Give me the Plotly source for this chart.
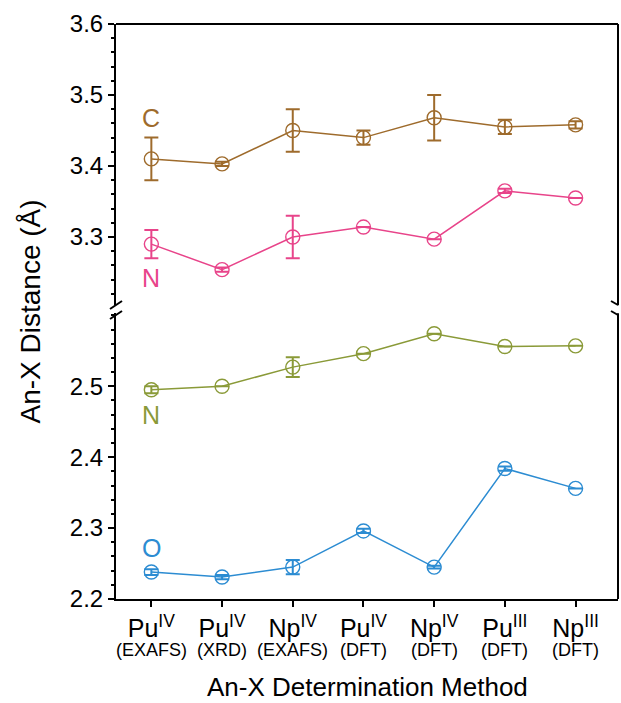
import plotly.graph_objects as go

methods = ["Pu<sup>IV</sup>", "Pu<sup>IV</sup>", "Np<sup>IV</sup>", "Pu<sup>IV</sup>",
           "Np<sup>IV</sup>", "Pu<sup>III</sup>", "Np<sup>III</sup>"]
techniques = ["(EXAFS)", "(XRD)", "(EXAFS)", "(DFT)", "(DFT)", "(DFT)", "(DFT)"]
idx = list(range(len(methods)))

c_vals = [3.410, 3.403, 3.450, 3.440, 3.468, 3.455, 3.458]
c_err = [0.030, 0.003, 0.030, 0.010, 0.032, 0.010, 0.005]
n_up_vals = [3.290, 3.254, 3.300, 3.314, 3.297, 3.365, 3.355]
n_up_err = [0.020, 0.003, 0.030, 0.0, 0.0, 0.003, 0.0]
n_lo_vals = [2.495, 2.500, 2.527, 2.546, 2.574, 2.556, 2.557]
n_lo_err = [0.005, 0.0, 0.014, 0.0, 0.0, 0.0, 0.0]
o_vals = [2.238, 2.231, 2.245, 2.296, 2.245, 2.384, 2.356]
o_err = [0.004, 0.003, 0.010, 0.003, 0.002, 0.003, 0.0]

BROWN = "#9E6B2C"
PINK = "#E8448A"
OLIVE = "#8A9A38"
BLUE = "#2C8CD2"

FONT = "Liberation Sans, Arial, Helvetica, sans-serif"

fig = go.Figure()

def add_series(vals, err, color, yax):
    fig.add_trace(go.Scatter(
        x=idx, y=vals, mode="lines+markers", xaxis="x", yaxis=yax,
        line=dict(color=color, width=1.5),
        marker=dict(symbol="circle-open", size=14, color=color, line=dict(width=1.4, color=color)),
        error_y=dict(type="data", array=err, visible=True, color=color, thickness=2, width=7),
        showlegend=False, hoverinfo="skip"))

add_series(c_vals, c_err, BROWN, "y2")
add_series(n_up_vals, n_up_err, PINK, "y2")
add_series(n_lo_vals, n_lo_err, OLIVE, "y")
add_series(o_vals, o_err, BLUE, "y")

lo_dom = [0.0, 0.497]
hi_dom = [0.511, 1.0]
lo_rng = [2.2, 2.603]
hi_rng = [3.204, 3.6]
xr = [-0.5, 6.6]

axis_font = dict(family=FONT, size=24, color="black")

common_y = dict(showgrid=False, zeroline=False, showline=True, linecolor="black", linewidth=2,
                automargin=False,
                ticks="outside", ticklen=6, tickwidth=2, tickcolor="black",
                tickfont=axis_font,
                minor=dict(ticks="outside", ticklen=3, tickwidth=2, tickcolor="black", dtick=0.02))
inner_y = dict(showgrid=False, zeroline=False, showline=False, showticklabels=False,
               automargin=False,
               ticks="inside", ticklen=7, tickwidth=2, tickcolor="black",
               minor=dict(ticks="inside", ticklen=6, tickwidth=2, tickcolor="black", dtick=0.02))

W, H = 621, 703
L, T = 116, 24
PH = 575
PW = 502
B = H - T - PH
R = W - L - PW

fig.update_layout(
    width=W, height=H,
    margin=dict(l=L, r=R, t=T, b=B, autoexpand=False),
    paper_bgcolor="white", plot_bgcolor="white",
    font=dict(family=FONT, color="black"),
    xaxis=dict(range=xr, anchor="y", showgrid=False, zeroline=False, showline=True,
               automargin=False,
               linecolor="black", linewidth=2, ticks="outside", ticklen=6, tickwidth=2,
               tickcolor="black", tickmode="array", tickvals=idx, ticktext=methods,
               tickfont=dict(family=FONT, size=25, color="black")),
    xaxis3=dict(range=xr, anchor="y", overlaying="x", showgrid=False, zeroline=False,
                automargin=False,
                showline=False, showticklabels=False, ticks="inside", ticklen=7, tickwidth=2,
                tickcolor="black", tickmode="array", tickvals=idx),
    yaxis=dict(domain=lo_dom, range=lo_rng, anchor="x", tickmode="array",
               tickvals=[2.2, 2.3, 2.4, 2.5], ticktext=["2.2", "2.3", "2.4", "2.5"],
               **common_y),
    yaxis2=dict(domain=hi_dom, range=hi_rng, anchor="x", tickmode="array",
                tickvals=[3.3, 3.4, 3.5, 3.6], ticktext=["3.3", "3.4", "3.5", "3.6"],
                **common_y),
    yaxis3=dict(domain=lo_dom, range=lo_rng, anchor="x", overlaying="y", tickmode="array",
                tickvals=[2.2, 2.3, 2.4, 2.5], **inner_y),
    yaxis4=dict(domain=hi_dom, range=hi_rng, anchor="x", overlaying="y2", tickmode="array",
                tickvals=[3.3, 3.4, 3.5, 3.6], **inner_y),
)

pw = float(PW)
ph = float(PH)

# axis titles
fig.add_annotation(text="An-X Distance (Å)", xref="paper", yref="paper", x=(30 - 116) / pw,
                   y=0.5, textangle=-90, showarrow=False, xanchor="center", yanchor="middle",
                   font=dict(family=FONT, size=28, color="black"))
fig.add_annotation(text="An-X Determination Method", xref="paper", yref="paper", x=0.5,
                   y=-(687 - 599) / ph, showarrow=False, xanchor="center", yanchor="middle",
                   font=dict(family=FONT, size=26, color="black"))

# technique labels under each category
for i, t in zip(idx, techniques):
    fig.add_annotation(text=t, x=i, xref="x", y=-(650 - 599) / ph, yref="paper",
                       showarrow=False, xanchor="center", yanchor="middle",
                       font=dict(family=FONT, size=18, color="black"))

# series labels
labels = [("C", 3.468, "y2", BROWN), ("N", 3.242, "y2", PINK),
          ("N", 2.459, "y", OLIVE), ("O", 2.272, "y", BLUE)]
for txt, yv, yref, col in labels:
    fig.add_annotation(text=txt, x=0, xref="x", y=yv, yref=yref, showarrow=False,
                       xanchor="center", yanchor="middle",
                       font=dict(family=FONT, size=25, color=col))

# frame: top edge and right edge (broken)
frame = dict(color="black", width=2)
fig.add_shape(type="line", xref="paper", yref="paper", x0=0, y0=1, x1=1, y1=1, line=frame)
fig.add_shape(type="line", xref="paper", yref="paper", x0=1, y0=hi_dom[0], x1=1, y1=1, line=frame)
fig.add_shape(type="line", xref="paper", yref="paper", x0=1, y0=0, x1=1, y1=lo_dom[1], line=frame)

# axis break marks
for yp in (305, 315):
    yc = (599 - yp) / ph
    fig.add_shape(type="line", xref="paper", yref="paper",
                  x0=-6 / pw, y0=yc - 4 / ph, x1=6 / pw, y1=yc + 4 / ph, line=frame)
for yp in (303, 313):
    yc = (599 - yp) / ph
    fig.add_shape(type="line", xref="paper", yref="paper",
                  x0=1 - 7 / pw, y0=yc + 2 / ph, x1=1.0, y1=yc - 2 / ph, line=frame)

fig.write_html(
    "out.html",
    config={"displayModeBar": False},
    post_script="document.body.style.margin='0';document.body.style.overflow='hidden';",
)
